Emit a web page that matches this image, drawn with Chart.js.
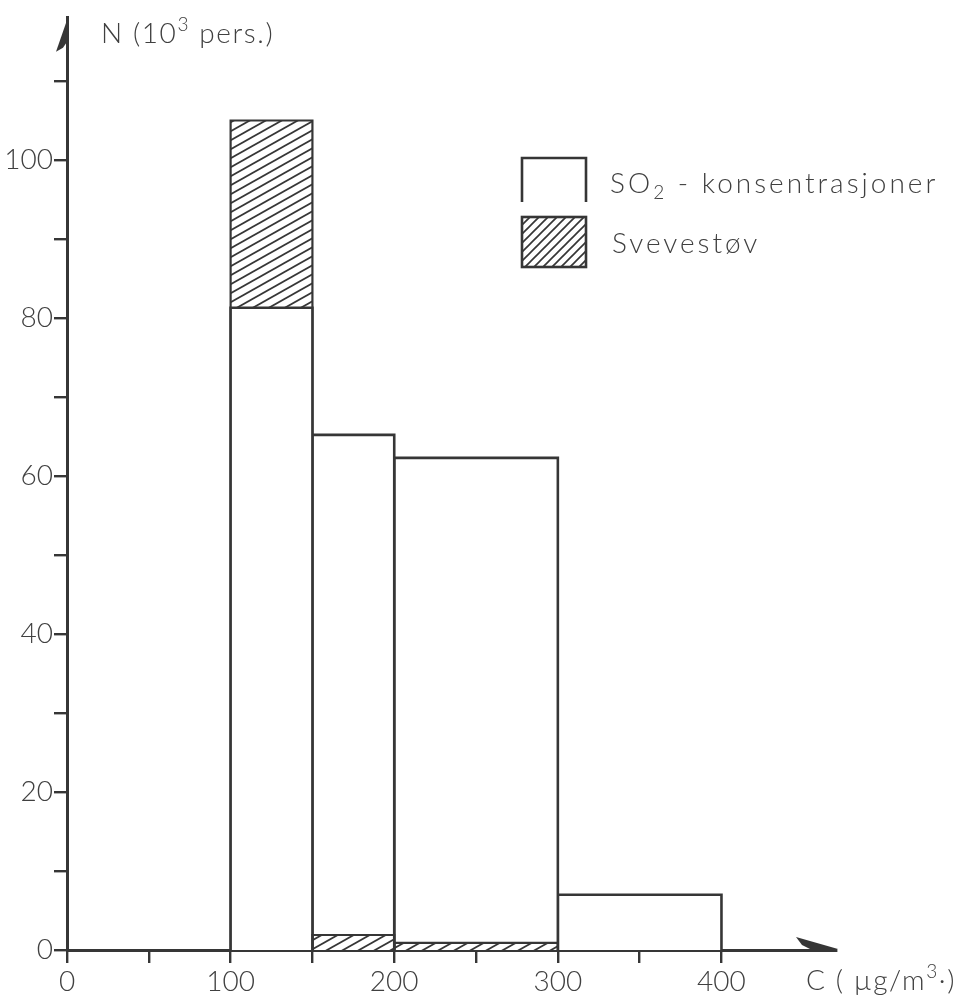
<!DOCTYPE html>
<html>
<head>
<meta charset="utf-8">
<script src="https://cdn.jsdelivr.net/npm/chart.js@4.4.1/dist/chart.umd.min.js"></script>
<style>
  html, body { margin: 0; padding: 0; background: #ffffff; }
  #wrap { width: 968px; height: 1002px; position: relative; }
</style>
</head>
<body>
<div id="wrap"><canvas id="c" width="968" height="1002"></canvas></div>
<script>
// Histogram: number of persons (thousands) by concentration class
const binEdges = [100, 150, 200, 300, 400];
const so2Counts = [81.3, 65.2, 62.3, 7.0];
const dustCounts = [105.0, 1.9, 0.9, 0];
const yTickLabels = [0, 20, 40, 60, 80, 100];
const xTickLabels = [0, 100, 200, 300, 400];
const seriesNames = ['SO', 'Svevestøv'];

const INK = '#363636';
const TEXT = '#404040';
const FONT = "Lato, 'DejaVu Sans', sans-serif";
const WEIGHT = 300;

// diagonal hatch tile: one stroke per tile, repeating seamlessly
function makeHatch(w, h, lw) {
  const t = document.createElement('canvas');
  t.width = w; t.height = h;
  const g = t.getContext('2d');
  g.strokeStyle = INK;
  g.lineWidth = lw;
  for (const dy of [-h, 0, h]) {
    g.beginPath();
    g.moveTo(-1, h + dy + h / w);
    g.lineTo(w + 1, dy - h / w);
    g.stroke();
  }
  return t;
}
const ctx0 = document.getElementById('c').getContext('2d');
const barHatch = ctx0.createPattern(makeHatch(16, 9, 1.8), 'repeat');
const keyHatch = ctx0.createPattern(makeHatch(9, 9, 1.7), 'repeat');

function rectPoints(x0, x1, h) {
  return [{x: x0, y: 0}, {x: x0, y: h}, {x: x1, y: h}, {x: x1, y: 0}];
}

const datasets = [];
for (let i = 0; i < so2Counts.length; i++) {
  datasets.push({
    label: seriesNames[0],
    data: rectPoints(binEdges[i], binEdges[i + 1], so2Counts[i]),
    borderColor: INK, borderWidth: 2.6, backgroundColor: '#ffffff',
    fill: 'origin', order: 0
  });
  if (dustCounts[i] > 0) {
    datasets.push({
      label: seriesNames[1],
      data: rectPoints(binEdges[i], binEdges[i + 1], dustCounts[i]),
      borderColor: INK, borderWidth: 2.2, backgroundColor: barHatch,
      fill: 'origin',
      order: dustCounts[i] > so2Counts[i] ? 1 : -1
    });
  }
}

// text run with optional super/subscript pieces: [text, size, dy]
function drawRuns(ctx, x, y, runs, spacing) {
  ctx.save();
  ctx.fillStyle = TEXT;
  ctx.textBaseline = 'alphabetic';
  ctx.textAlign = 'left';
  ctx.letterSpacing = (spacing || 0) + 'px';
  for (const [txt, size, dy] of runs) {
    ctx.font = WEIGHT + ' ' + size + 'px ' + FONT;
    ctx.fillText(txt, x, y + dy);
    x += ctx.measureText(txt).width;
  }
  ctx.restore();
}

const decorations = {
  id: 'decorations',
  afterDraw(chart) {
    const {ctx, chartArea: a} = chart;
    ctx.save();
    ctx.fillStyle = INK;
    // half arrow heads at the axis ends
    ctx.beginPath();
    ctx.moveTo(a.left + 1.5, a.top - 2);
    ctx.lineTo(a.left - 11, a.top + 34);
    ctx.lineTo(a.left - 4, a.top + 30);
    ctx.lineTo(a.left + 1.5, a.top + 22);
    ctx.closePath();
    ctx.fill();
    ctx.beginPath();
    ctx.moveTo(a.right + 2, a.bottom - 1);
    ctx.lineTo(a.right - 40, a.bottom - 13);
    ctx.lineTo(a.right - 34, a.bottom - 5);
    ctx.lineTo(a.right - 26, a.bottom - 1);
    ctx.closePath();
    ctx.fill();
    ctx.restore();

    // axis titles
    drawRuns(ctx, 101, 43, [['N (10', 28, 0], ['3', 19, -12], [' pers.)', 28, 0]], 1.6);
    drawRuns(ctx, 806, 990, [['C ( µg/m', 28, 0], ['3', 19, -12], ['·)', 28, 0]], 1.6);

    // key
    ctx.save();
    ctx.strokeStyle = INK;
    ctx.lineWidth = 2.6;
    ctx.beginPath();
    ctx.moveTo(522, 202); ctx.lineTo(522, 158); ctx.lineTo(586, 158); ctx.lineTo(586, 202);
    ctx.stroke();
    ctx.fillStyle = keyHatch;
    ctx.fillRect(522, 217, 64, 50);
    ctx.strokeRect(522, 217, 64, 50);
    ctx.restore();
    drawRuns(ctx, 610, 193, [[seriesNames[0], 28, 0], ['2', 19, 6], [' - konsentrasjoner', 28, 0]], 3.0);
    drawRuns(ctx, 612, 253, [[seriesNames[1], 28, 0]], 3.0);
  }
};

const tickFont = { family: FONT, size: 28, weight: WEIGHT };

new Chart(ctx0, {
  type: 'line',
  data: { datasets },
  options: {
    responsive: false,
    animation: false,
    devicePixelRatio: 1,
    layout: { padding: { top: 12, right: 132, left: 0, bottom: 0 } },
    elements: { point: { radius: 0 }, line: { tension: 0, borderJoinStyle: 'miter' } },
    plugins: { legend: { display: false }, tooltip: { enabled: false } },
    scales: {
      x: {
        type: 'linear', min: 0, max: 470,
        border: { display: true, color: INK, width: 3 },
        grid: { drawOnChartArea: false, drawTicks: true, tickLength: 13, color: INK, lineWidth: 2.4 },
        ticks: {
          stepSize: 50, autoSkip: false, maxRotation: 0, padding: 2, color: TEXT,
          font: tickFont,
          callback: v => (v % 50 !== 0 ? null : (xTickLabels.includes(v) ? String(v) : ''))
        },
        afterFit(s) { s.height = 52; }
      },
      y: {
        type: 'linear', min: 0, max: 118,
        border: { display: true, color: INK, width: 3 },
        grid: { drawOnChartArea: false, drawTicks: true, tickLength: 13, color: INK, lineWidth: 2.4 },
        ticks: {
          stepSize: 10, autoSkip: false, padding: 1, color: TEXT,
          font: tickFont,
          callback: v => (v % 10 !== 0 ? null : (yTickLabels.includes(v) ? String(v) : ''))
        },
        afterFit(s) { s.width = 67; }
      }
    }
  },
  plugins: [decorations]
});
</script>
</body>
</html>
